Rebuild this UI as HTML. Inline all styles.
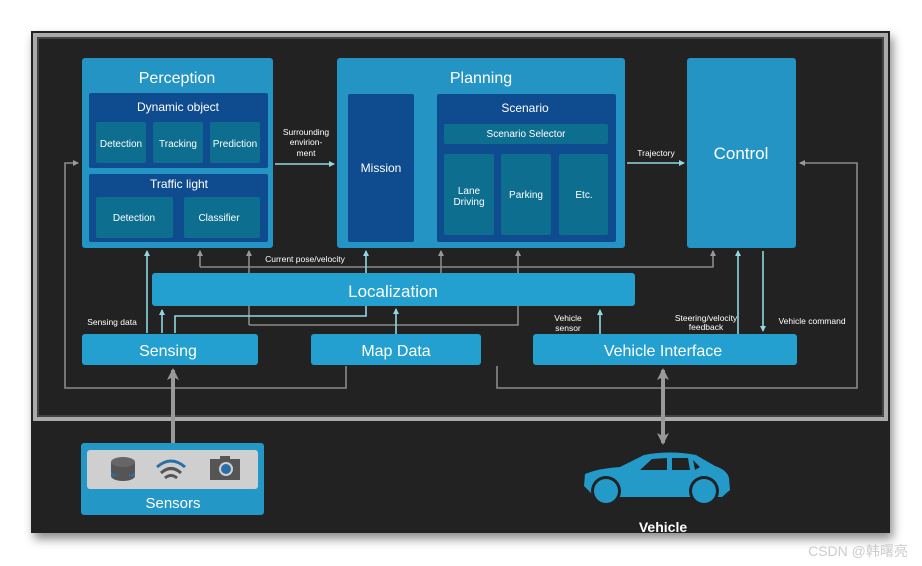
<!DOCTYPE html>
<html><head><meta charset="utf-8"><style>
html,body{margin:0;padding:0;background:#fff;width:922px;height:566px;overflow:hidden}
svg{display:block}
text{font-family:"Liberation Sans",sans-serif;fill:#fff;text-anchor:middle}
</style></head><body>
<svg width="922" height="566" viewBox="0 0 922 566">
<defs>
<marker id="t" markerWidth="6" markerHeight="6" refX="5" refY="3" orient="auto" markerUnits="userSpaceOnUse"><path d="M0,0 L6,3 L0,6 z" fill="#8fd8e0"/></marker>
<marker id="g" markerWidth="6" markerHeight="6" refX="5" refY="3" orient="auto" markerUnits="userSpaceOnUse"><path d="M0,0 L6,3 L0,6 z" fill="#999"/></marker>
<marker id="G" markerWidth="12" markerHeight="12" refX="10" refY="6" orient="auto" markerUnits="userSpaceOnUse"><path d="M0,0 L12,6 L0,12 L3,6 z" fill="#999"/></marker>
<filter id="sh" x="-5%" y="-5%" width="110%" height="115%"><feDropShadow dx="3" dy="6" stdDeviation="5" flood-color="#000" flood-opacity="0.45"/></filter>
</defs>
<rect x="31" y="31" width="859" height="502" fill="#232323" filter="url(#sh)"/>
<rect x="35" y="35" width="851" height="384" fill="none" stroke="#aaa" stroke-width="4"/>
<rect x="38" y="38" width="845" height="378" fill="#222" stroke="#666" stroke-width="1"/>

<!-- gray lines -->
<g fill="none" stroke="#8a8a8a" stroke-width="1.6">
<polyline points="346,366 346,388 65,388 65,163 78,163" marker-end="url(#g)"/>
<polyline points="497,366 497,388 857,388 857,163 800,163" marker-end="url(#g)"/>
<polyline points="249,325 249,251" marker-end="url(#g)"/>
<polyline points="249,325 518,325 518,251" marker-end="url(#g)"/>
<polyline points="441,273 441,251" marker-end="url(#g)"/>
<polyline points="200,267 200,251" marker-end="url(#g)"/>
<polyline points="200,267 713,267 713,251" marker-end="url(#g)"/>
</g>
<!-- teal lines -->
<g fill="none" stroke="#8fd8e0" stroke-width="1.6">
<polyline points="275,164 334,164" marker-end="url(#t)"/>
<polyline points="416,166 435,166" marker-end="url(#t)"/>
<polyline points="627,163 684,163" marker-end="url(#t)"/>
<polyline points="147,333 147,251" marker-end="url(#t)"/>
<polyline points="162,333 162,310" marker-end="url(#t)"/>
<polyline points="175,333 175,316 366,316 366,251" marker-end="url(#t)"/>
<polyline points="396,334 396,309" marker-end="url(#t)"/>
<polyline points="600,334 600,310" marker-end="url(#t)"/>
<polyline points="738,334 738,251" marker-end="url(#t)"/>
<polyline points="763,251 763,331" marker-end="url(#t)"/>
</g>

<!-- Perception -->
<rect x="82" y="58" width="191" height="190" rx="3" fill="#2394c4"/>
<text x="177" y="83" font-size="16">Perception</text>
<rect x="89" y="93" width="179" height="75" rx="2" fill="#0f4b8f"/>
<text x="178" y="111" font-size="12">Dynamic object</text>
<rect x="96" y="122" width="50" height="41" rx="2" fill="#0d6e90"/>
<rect x="153" y="122" width="50" height="41" rx="2" fill="#0d6e90"/>
<rect x="210" y="122" width="50" height="41" rx="2" fill="#0d6e90"/>
<text x="121" y="147" font-size="10">Detection</text>
<text x="178" y="147" font-size="10">Tracking</text>
<text x="235" y="147" font-size="10">Prediction</text>
<rect x="89" y="174" width="179" height="68" rx="2" fill="#0f4b8f"/>
<text x="179" y="188" font-size="12">Traffic light</text>
<rect x="96" y="197" width="77" height="41" rx="2" fill="#0d6e90"/>
<rect x="184" y="197" width="76" height="41" rx="2" fill="#0d6e90"/>
<text x="134" y="221" font-size="10">Detection</text>
<text x="219" y="221" font-size="10">Classifier</text>

<!-- Planning -->
<rect x="337" y="58" width="288" height="190" rx="3" fill="#2394c4"/>
<text x="481" y="83" font-size="16">Planning</text>
<rect x="348" y="94" width="66" height="148" rx="2" fill="#0f4b8f"/>
<text x="381" y="172" font-size="12">Mission</text>
<rect x="437" y="94" width="179" height="148" rx="2" fill="#0f4b8f"/>
<text x="525" y="112" font-size="12">Scenario</text>
<rect x="444" y="124" width="164" height="20" rx="2" fill="#0d6e90"/>
<text x="526" y="137" font-size="10">Scenario Selector</text>
<rect x="444" y="154" width="50" height="81" rx="2" fill="#0d6e90"/>
<rect x="501" y="154" width="50" height="81" rx="2" fill="#0d6e90"/>
<rect x="559" y="154" width="49" height="81" rx="2" fill="#0d6e90"/>
<text x="469" y="194" font-size="10">Lane</text>
<text x="469" y="205" font-size="10">Driving</text>
<text x="526" y="198" font-size="10">Parking</text>
<text x="584" y="198" font-size="10">Etc.</text>

<!-- Control -->
<rect x="687" y="58" width="109" height="190" rx="3" fill="#2394c4"/>
<text x="741" y="159" font-size="17">Control</text>

<!-- Localization etc -->
<rect x="152" y="273" width="483" height="33" rx="3" fill="#23a0d0"/>
<text x="393" y="297" font-size="17">Localization</text>
<rect x="82" y="334" width="176" height="31" rx="3" fill="#23a0d0"/>
<text x="168" y="356" font-size="16">Sensing</text>
<rect x="311" y="334" width="170" height="31" rx="3" fill="#23a0d0"/>
<text x="396" y="356" font-size="16">Map Data</text>
<rect x="533" y="334" width="264" height="31" rx="3" fill="#23a0d0"/>
<text x="663" y="356" font-size="16">Vehicle Interface</text>

<!-- labels -->
<g font-size="8.5">
<text x="306" y="135">Surrounding</text>
<text x="306" y="145">envirion-</text>
<text x="306" y="156">ment</text>
<text x="656" y="156">Trajectory</text>
<text x="305" y="262">Current pose/velocity</text>
<text x="112" y="325">Sensing data</text>
<text x="568" y="321">Vehicle</text>
<text x="568" y="331">sensor</text>
<text x="706" y="321">Steering/velocity</text>
<text x="706" y="330">feedback</text>
<text x="812" y="324">Vehicle command</text>
</g>

<!-- thick arrows -->
<line x1="173" y1="443" x2="173" y2="370" stroke="#999" stroke-width="4" marker-end="url(#G)"/>
<line x1="663" y1="390" x2="663" y2="370" stroke="#999" stroke-width="4" marker-end="url(#G)"/>
<line x1="663" y1="380" x2="663" y2="443" stroke="#999" stroke-width="4" marker-end="url(#G)"/>

<!-- Sensors -->
<rect x="81" y="443" width="183" height="72" rx="3" fill="#2397c6"/>
<rect x="87" y="450" width="171" height="39" rx="3" fill="#cfcfcf"/>
<g>
<ellipse cx="123" cy="476" rx="12" ry="5" fill="#555"/>
<rect x="111" y="466" width="24" height="10" fill="#2a6fa8"/>
<ellipse cx="123" cy="471" rx="12" ry="5" fill="#555"/>
<rect x="111" y="462" width="24" height="9" fill="#555"/>
<ellipse cx="123" cy="462" rx="12" ry="5" fill="#666"/>
<path d="M157,467 Q171,455 185,467" fill="none" stroke="#2a6fa8" stroke-width="3"/>
<path d="M161,473 Q171,464 181,473" fill="none" stroke="#555" stroke-width="3"/>
<path d="M165,478 Q171,473 177,478" fill="none" stroke="#555" stroke-width="3"/>
<rect x="210" y="459" width="30" height="21" fill="#555"/>
<rect x="220" y="456" width="10" height="4" fill="#555"/>
<circle cx="226" cy="469" r="7" fill="#cfcfcf"/>
<circle cx="226" cy="469" r="5" fill="#2a6fa8"/>
</g>
<text x="173" y="508" font-size="15">Sensors</text>

<!-- Car -->
<path d="M584,486 L585,474 Q600,468 620,467 L644,455 Q670,450 696,455 L715,466 Q727,470 729,478 L730,490 L722,497 L595,497 Z" fill="#249ac8"/>
<path d="M640,470 L652,459 L667,458 L667,470 Z M672,458 L688,458 L690,470 L672,470 Z M693,460 L700,467 L695,470 Z" fill="#222"/>
<circle cx="606" cy="491" r="15" fill="#222"/><circle cx="606" cy="491" r="12" fill="#249ac8"/>
<circle cx="704" cy="491" r="15" fill="#222"/><circle cx="704" cy="491" r="12" fill="#249ac8"/>
<text x="663" y="532" font-size="14" font-weight="bold">Vehicle</text>

<text x="858" y="556" font-size="14" style="fill:#ccc;font-family:'Liberation Sans','Noto Sans CJK SC',sans-serif">CSDN @韩曙亮</text>
</svg>
</body></html>
